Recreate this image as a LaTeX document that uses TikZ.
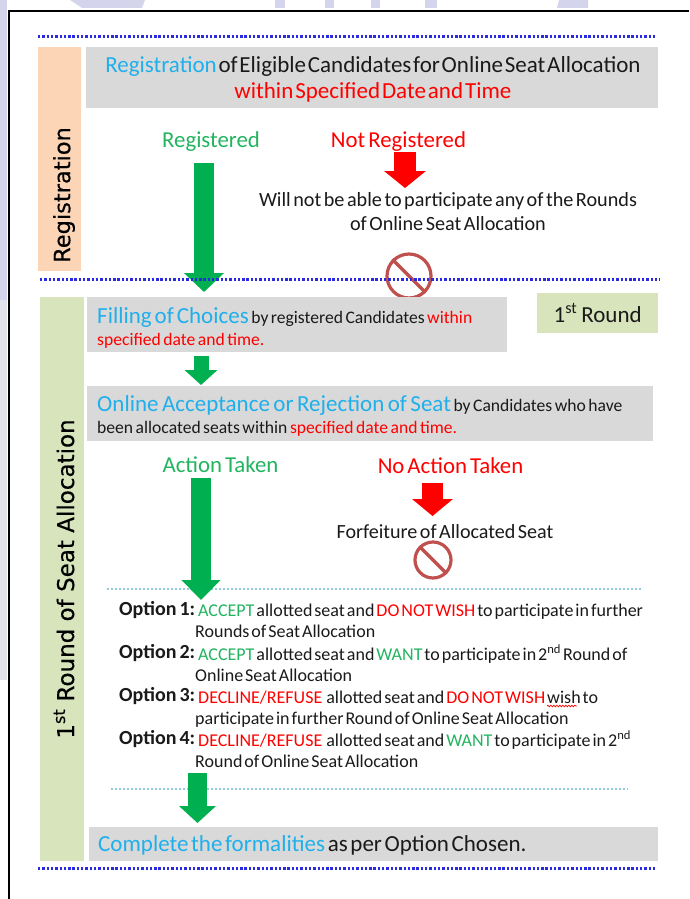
\documentclass[tikz,border=0pt]{standalone}
\usepackage{fontspec}
\setmainfont{Carlito}
\newfontfamily\sidefont{DejaVu Sans}[FakeBold=0.3]
\usetikzlibrary{arrows.meta,decorations.pathmorphing}
\definecolor{hlblue}{HTML}{1FB0EC}
\definecolor{okgreen}{HTML}{22B45F}
\definecolor{arrowgreen}{HTML}{00B050}
\definecolor{boxgray}{HTML}{D9D9D9}
\definecolor{peach}{HTML}{FBD5B5}
\definecolor{sage}{HTML}{D8E4BC}
\definecolor{dotblue}{HTML}{2A2AE0}
\definecolor{dotteal}{HTML}{92CDDC}
\definecolor{stopred}{HTML}{C0504D}
\definecolor{inktext}{HTML}{1A1A1A}
\definecolor{lavender}{HTML}{D4D4EC}
\definecolor{palegray}{HTML}{E2E2EC}
\newcommand{\fs}[2]{\fontsize{#1}{#2}\selectfont}
\newcommand{\hl}[1]{\textcolor{hlblue}{#1}}
\newcommand{\rd}[1]{\textcolor{red}{#1}}
\newcommand{\gn}[1]{\textcolor{okgreen}{#1}}
\newcommand{\ws}[1]{\spaceskip=#1pt\relax}
\newcommand{\optstrut}{\rule{0pt}{17pt}}
\tikzset{
  x=1pt,y=-1pt,
  graybox/.style={fill=boxgray,draw=none,anchor=north west,inner sep=0pt},
  sidebox/.style={draw=none,anchor=north west,inner sep=0pt},
  sidetext/.style={rotate=90,text=black,inner sep=0pt},
  plain/.style={inner sep=0pt,text=inktext},
  boxtext/.style={plain,anchor=west,align=left,font=\fs{17.6}{22}},
  dotline/.style={dotblue,line width=3pt,dash pattern=on 2.4pt off 1.9pt},
  tealline/.style={dotteal,line width=2.6pt,dash pattern=on 2.2pt off 1.8pt},
  greenarrow/.style={arrowgreen,line width=#1},
  redarrow/.style={red,line width=#1},
  stopring/.style={circle,draw=stopred,line width=3.2pt,inner sep=0pt},
  optlabel/.style={plain,anchor=west,font=\bfseries\fs{20}{21}},
  opttext/.style={plain,anchor=north west,align=left,font=\fs{18}{21.5}},
}
\begin{document}
\begin{tikzpicture}
\useasboundingbox (0,0) rectangle (689,899);
\fill[white] (0,0) rectangle (689,899);
% faint page background showing around the frame
\fill[lavender] (0,0) rectangle (7,300);
\fill[palegray] (0,300) rectangle (7,680);
\fill[lavender] (70,0) -- (145,0) -- (142,8) -- (82,8) -- cycle;
\fill[lavender] (275,0) rectangle (285,8);
\fill[lavender] (325,0) rectangle (334,8);
\fill[lavender] (371,0) rectangle (380,8);
\fill[lavender] (425,0) rectangle (437,8);
\fill[lavender] (559,0) -- (588,0) -- (588,8) -- (557,8) -- cycle;
\draw[black,line width=2pt] (9,899) -- (9,11) -- (689,11);

% top dotted line and Registration band
\coordinate (d1a) at (38,37); \coordinate (d1b) at (657,37);
\draw[dotline] (d1a) -- (d1b);
\node[sidebox,fill=peach,minimum width=43pt,minimum height=224pt] (regside) at (38,47) {};
\node[sidetext,font=\sidefont\fs{22.5}{26}] (regsidetext) at (64,195) {Registration};
\node[graybox,minimum width=572pt,minimum height=61pt] (regbox) at (86,47) {};
\node[plain,align=center,font=\fs{23}{26}] (regtext) at (373,79)
  {\ws{1.8}\hl{Registration} of Eligible Candidates for Online Seat Allocation\\\ws{2}\rd{within Specified Date and Time}};

\node[plain,text=okgreen,font=\fs{22.8}{24}] (registered) at (211,142) {Registered};
\node[plain,text=red,font=\fs{22.8}{24}] (notreg) at (398.5,142) {\ws{3}Not Registered};
\node[plain,align=center,font=\fs{20.2}{24}] (willnot) at (448,212)
  {\ws{2.5}Will not be able to participate any of the Rounds\\\ws{2.5}of Online Seat Allocation};

% stop sign 1 (clipped by the band below)
\fill[white] (379,247) rectangle (440,297);
\node[stopring,minimum size=44pt] (stopa) at (409,276) {};
\draw[stopred,line width=3.2pt] (stopa.north west) -- (stopa.south east);

% round band
\node[sidebox,fill=sage,minimum width=44pt,minimum height=564pt] (roundside) at (40,297) {};
\node[sidetext,font=\sidefont\fs{23}{26}] (roundsidetext) at (64,579) {1\textsuperscript{st} Round of Seat Allocation};
\node[graybox,minimum width=420pt,minimum height=55pt] (fillbox) at (87,297) {};
\node[boxtext] (filltext) at (97,328)
  {\ws{2.5}{\fs{23}{22}\ws{3}\hl{Filling of Choices}} by registered Candidates \rd{within}\\\ws{2.5}\rd{specified date and time.}};
\node[sidebox,fill=sage,minimum width=121pt,minimum height=40pt,text=inktext,font=\fs{23}{24}] (roundtag) at (537,293) {\ws{4}1\textsuperscript{st} Round};

% arrow 1 and dotted line 2
\coordinate (a1s) at (204,163); \coordinate (a1e) at (204,292);
\draw[greenarrow=20pt,-{Triangle[length=19pt,width=39pt]}] (a1s) -- (a1e);
\coordinate (rs1) at (405,152); \coordinate (re1) at (405,188);
\draw[redarrow=22pt,-{Triangle[length=17pt,width=41pt]}] (rs1) -- (re1);
\coordinate (d2a) at (40,279); \coordinate (d2b) at (660,279);
\draw[dotline] (d2a) -- (d2b);

\coordinate (a2s) at (201,356); \coordinate (a2e) at (201,385);
\draw[greenarrow=15pt,-{Triangle[length=15pt,width=32pt]}] (a2s) -- (a2e);

\node[graybox,minimum width=566pt,minimum height=55pt] (onlinebox) at (87,386) {};
\node[boxtext] (onlinetext) at (97,416)
  {\ws{2.5}{\fs{23}{22}\ws{3.5}\hl{Online Acceptance or Rejection of Seat}} by Candidates who have\\\ws{2.5}been allocated seats within \rd{specified date and time.}};

\node[plain,text=okgreen,font=\fs{22.8}{24}] (action) at (220.5,465) {\ws{3}Action Taken};
\node[plain,text=red,font=\fs{22.8}{24}] (noaction) at (450.5,466) {\ws{3}No Action Taken};
\node[plain,font=\fs{20.1}{22}] (forfeit) at (445,532) {\ws{2.5}Forfeiture of Allocated Seat};

\node[stopring,minimum size=36pt] (stopb) at (433,560) {};
\draw[stopred,line width=3.2pt] (stopb.north west) -- (stopb.south east);

\coordinate (rs2) at (432.5,483); \coordinate (re2) at (432.5,516);
\draw[redarrow=21pt,-{Triangle[length=17pt,width=40pt]}] (rs2) -- (re2);

% teal line 1, arrow 3
\coordinate (t1a) at (107,589); \coordinate (t1b) at (642,589);
\draw[tealline] (t1a) -- (t1b);
\coordinate (a3s) at (201,478); \coordinate (a3e) at (201,600);
\draw[greenarrow=20pt,-{Triangle[length=20pt,width=38pt]}] (a3s) -- (a3e);

% options
\node[optlabel] (o1) at (119,610) {\ws{3}Option 1:};
\node[opttext] (o1t) at (198,599) {\optstrut\ws{2}\gn{ACCEPT} allotted seat and \rd{DO NOT WISH} to participate in further\\[-0.5pt]\ws{2}\hspace*{-3pt}Rounds of Seat Allocation};
\node[optlabel] (o2) at (119,653) {\ws{3}Option 2:};
\node[opttext] (o2t) at (198,643) {\optstrut\ws{2}\gn{ACCEPT} allotted seat and \gn{WANT} to participate in 2\textsuperscript{nd} Round of\\[-0.5pt]\ws{2}\hspace*{-3pt}Online Seat Allocation};
\node[optlabel] (o3) at (119,696) {\ws{3}Option 3:};
\node[opttext] (o3t) at (198,686) {\optstrut\ws{2}\rd{DECLINE/REFUSE}\ \ allotted seat and \rd{DO NOT WISH} wish to\\[-0.5pt]\ws{2}\hspace*{-3pt}participate in further Round of Online Seat Allocation};
\node[optlabel] (o4) at (119,739) {\ws{3}Option 4:};
\node[opttext] (o4t) at (198,729) {\optstrut\ws{2}\rd{DECLINE/REFUSE}\ \ allotted seat and \gn{WANT} to participate in 2\textsuperscript{nd}\\[-0.5pt]\ws{2}\hspace*{-3pt}Round of Online Seat Allocation};
\coordinate (wa) at (547,706); \coordinate (wb) at (577,706);
\draw[red,line width=0.7pt,decorate,decoration={snake,amplitude=0.8pt,segment length=3pt}] (wa) -- (wb);

% teal line 2, arrow 4
\coordinate (t2a) at (111,789); \coordinate (t2b) at (628,789);
\draw[tealline] (t2a) -- (t2b);
\coordinate (a4s) at (197.5,773); \coordinate (a4e) at (197.5,823);
\draw[greenarrow=19pt,-{Triangle[length=17pt,width=36pt]}] (a4s) -- (a4e);

\node[graybox,minimum width=569pt,minimum height=34pt] (donebox) at (89,827) {};
\node[plain,anchor=west,font=\fs{23}{24}] (donetext) at (98,845)
  {\ws{2.7}\hl{Complete the formalities} as per Option Chosen.};

\coordinate (d3a) at (38,868); \coordinate (d3b) at (657,868);
\draw[dotline] (d3a) -- (d3b);
\end{tikzpicture}
\end{document}
